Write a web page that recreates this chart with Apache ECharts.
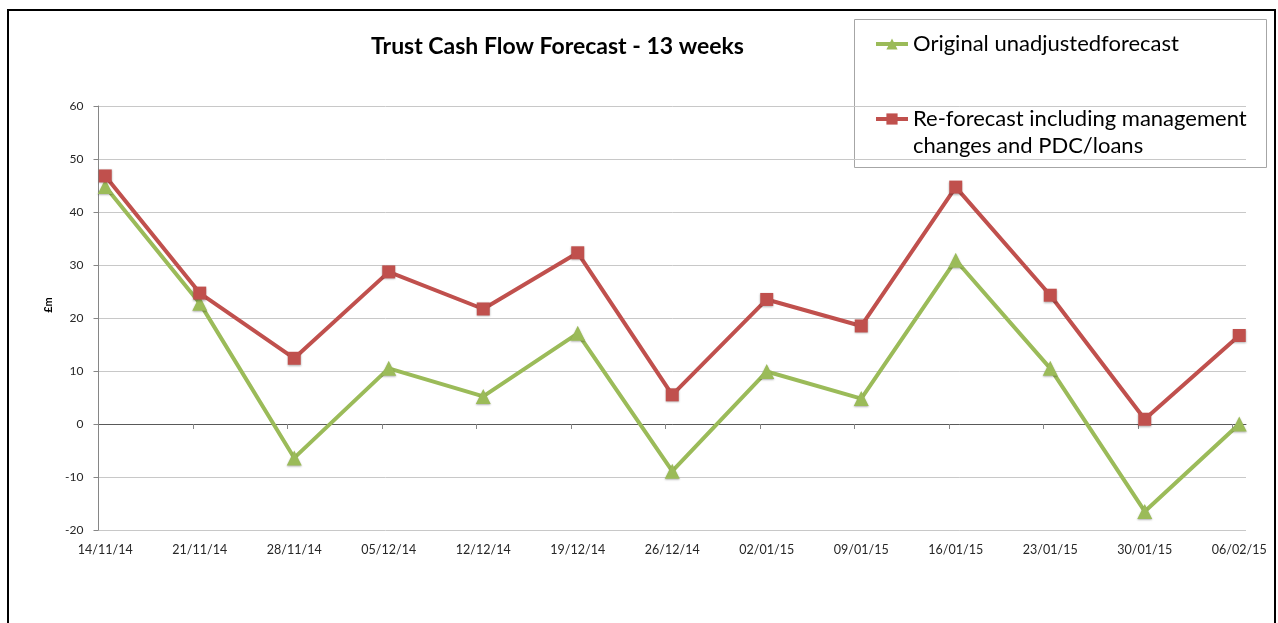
<!DOCTYPE html>
<html>
<head>
<meta charset="utf-8">
<title>Trust Cash Flow Forecast - 13 weeks</title>
<script src="https://cdn.jsdelivr.net/npm/echarts@6/dist/echarts.min.js"></script>
<style>
  html, body { margin: 0; padding: 0; background: #ffffff; }
  #chart { width: 1278px; height: 623px; }
</style>
</head>
<body>
<div id="chart"></div>
<script>
// week ending dates (Excel date axis, one band per day)
const weeks = ["14/11/14", "21/11/14", "28/11/14", "05/12/14", "12/12/14", "19/12/14", "26/12/14",
               "02/01/15", "09/01/15", "16/01/15", "23/01/15", "30/01/15", "06/02/15"];
const original = [44.8, 22.8, -6.4, 10.5, 5.2, 17.1, -8.9, 9.9, 4.8, 30.9, 10.5, -16.5, 0];
const reforecast = [46.8, 24.7, 12.4, 28.7, 21.7, 32.3, 5.5, 23.5, 18.5, 44.7, 24.3, 0.9, 16.7];
const yMin = -20;
const yMax = 60;
const yStep = 10;
const daysPerWeek = 7;

const originalName = "Original unadjustedforecast";
const reforecastName = "Re-forecast including management\nchanges and PDC/loans";

const font = "Lato, 'Open Sans', sans-serif";
const dayMax = (weeks.length - 1) * daysPerWeek + 1;
const weekTicks = weeks.map((w, i) => i * daysPerWeek);
const weekMiddles = weekTicks.map((d) => d + 0.5);
// points sit in the middle of their day band
const toPoints = (values) => values.map((v, i) => [i * daysPerWeek + 0.5, v]);

const chart = echarts.init(document.getElementById("chart"));
chart.setOption({
  animation: false,
  textStyle: { fontFamily: font },
  grid: { left: 98.5, right: 32, top: 106, bottom: 93 },
  graphic: [
    {
      type: "rect",
      shape: { x: 8, y: 10, width: 1267, height: 660 },
      style: { fill: "transparent", stroke: "#000000", lineWidth: 2 },
      silent: true
    },
    {
      type: "rect",
      shape: { x: 854.5, y: 19.5, width: 412, height: 148 },
      style: { fill: "transparent", stroke: "#a6a6a6", lineWidth: 1 },
      silent: true
    },
    {
      type: "text",
      x: 557.5,
      y: 47,
      style: {
        text: "Trust Cash Flow Forecast - 13 weeks",
        fontFamily: font,
        fontSize: 23,
        fontWeight: "bold",
        fill: "#000000",
        align: "center",
        verticalAlign: "middle"
      }
    }
  ],
  legend: {
    orient: "vertical",
    left: 854,
    top: 19,
    padding: [11.5, 0, 0, 20],
    itemWidth: 32,
    itemHeight: 14,
    itemGap: 21,
    lineStyle: { width: 4 },
    textStyle: { fontSize: 22, lineHeight: 27, color: "#000000", fontFamily: font },
    // leading blank line keeps the first text line level with the icon
    formatter: (name) => (name === reforecastName ? "\n" + name : name),
    data: [originalName, reforecastName]
  },
  xAxis: [
    {
      type: "value",
      min: 0,
      max: dayMax,
      position: "bottom",
      axisLine: { onZero: true, lineStyle: { color: "#595959", width: 1 } },
      axisTick: { show: true, length: 5, customValues: weekTicks, lineStyle: { color: "#868686" } },
      axisLabel: { show: false },
      splitLine: { show: false }
    },
    {
      type: "value",
      min: 0,
      max: dayMax,
      position: "bottom",
      axisLine: { show: false, onZero: false },
      axisTick: { show: false },
      axisLabel: {
        customValues: weekMiddles,
        formatter: (v) => weeks[Math.floor(v / daysPerWeek)],
        margin: 13,
        fontSize: 12.5,
        color: "#262626"
      },
      splitLine: { show: false }
    }
  ],
  yAxis: {
    type: "value",
    min: yMin,
    max: yMax,
    interval: yStep,
    name: "£m",
    nameLocation: "middle",
    nameRotate: 90,
    nameGap: 42,
    nameTextStyle: { fontSize: 11, fontWeight: "bold", color: "#000000", padding: [0, 0, 0, 26] },
    axisLine: { show: true, lineStyle: { color: "#868686" } },
    axisTick: { show: true, length: 5, lineStyle: { color: "#868686" } },
    axisLabel: { margin: 15, fontSize: 12, color: "#262626" },
    splitLine: { lineStyle: { color: "#c8c8c8" } }
  },
  series: [
    {
      name: originalName,
      type: "line",
      data: toPoints(original),
      symbol: "triangle",
      symbolSize: 15,
      lineStyle: { color: "#9bbb59", width: 4 },
      itemStyle: { color: "#9bbb59", shadowBlur: 2, shadowColor: "rgba(0,0,0,0.3)", shadowOffsetY: 1 },
      z: 2
    },
    {
      name: reforecastName,
      type: "line",
      data: toPoints(reforecast),
      symbol: "rect",
      symbolSize: 13,
      lineStyle: { color: "#c0504d", width: 4 },
      itemStyle: { color: "#c0504d", shadowBlur: 2, shadowColor: "rgba(0,0,0,0.3)", shadowOffsetY: 1 },
      z: 3
    }
  ]
});
</script>
</body>
</html>
